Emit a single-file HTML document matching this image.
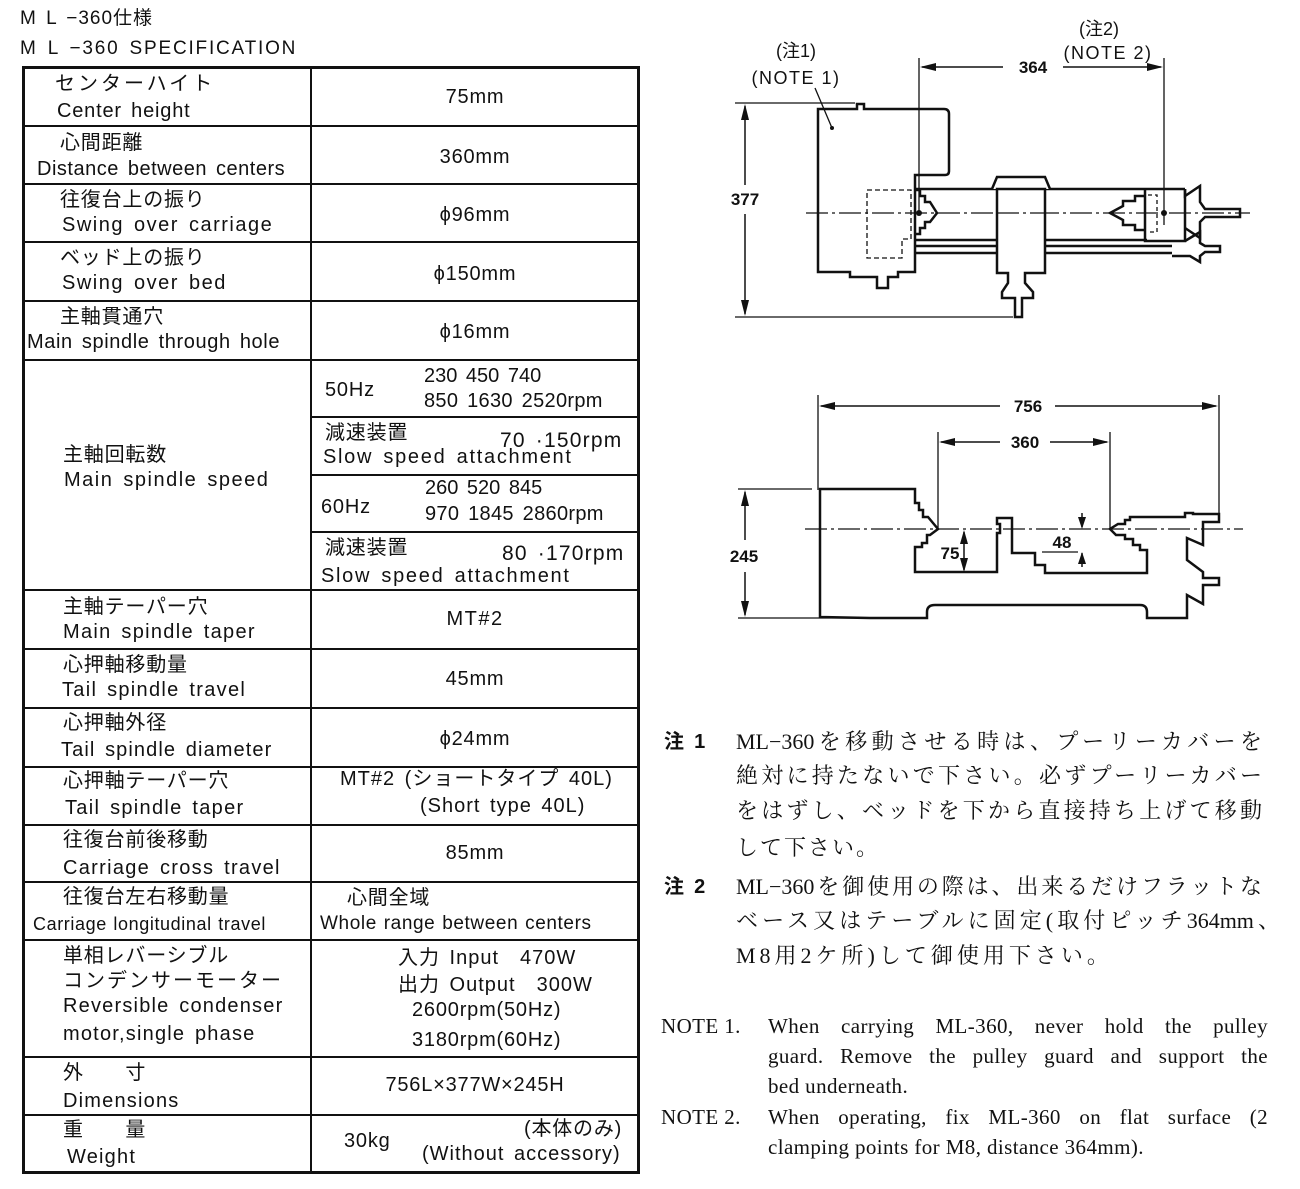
<!DOCTYPE html>
<html><head><meta charset="utf-8">
<style>
*{margin:0;padding:0;box-sizing:border-box}
body{width:1300px;height:1189px;background:#fff;position:relative;overflow:hidden;font-family:"Liberation Sans","Noto Sans CJK JP",sans-serif;color:#111}
.t{position:absolute;white-space:nowrap;font-size:20px;line-height:22px;letter-spacing:0.8px;word-spacing:3px}
.c{text-align:center}
.jp{position:absolute;white-space:nowrap;font-family:"Liberation Serif","Noto Serif CJK SC",serif;font-size:22px;line-height:26px}
.j{text-align:justify;text-align-last:justify;white-space:normal;overflow:hidden;height:28px}
.en{position:absolute;white-space:nowrap;font-family:"Liberation Serif",serif;font-size:21px;line-height:24px;letter-spacing:0.4px}
.hl{position:absolute;background:#111;height:2px}
.vl{position:absolute;background:#111;width:2px}
</style></head><body>

<div class="t" style="left:20px;top:8px;font-size:19px;letter-spacing:1px">M L −360仕様</div>
<div class="t" style="left:20px;top:38px;font-size:19px;letter-spacing:1.8px">M L −360 SPECIFICATION</div>

<div style="position:absolute;left:22px;top:66px;width:618px;height:1108px;border:3px solid #111"></div>
<div class="vl" style="left:310px;top:66px;height:1108px"></div>
<div class="hl" style="left:22px;width:618px;top:125px"></div>
<div class="hl" style="left:22px;width:618px;top:183px"></div>
<div class="hl" style="left:22px;width:618px;top:241px"></div>
<div class="hl" style="left:22px;width:618px;top:300px"></div>
<div class="hl" style="left:22px;width:618px;top:359px"></div>
<div class="hl" style="left:310px;width:330px;top:416px"></div>
<div class="hl" style="left:310px;width:330px;top:474px"></div>
<div class="hl" style="left:310px;width:330px;top:531px"></div>
<div class="hl" style="left:22px;width:618px;top:589px"></div>
<div class="hl" style="left:22px;width:618px;top:648px"></div>
<div class="hl" style="left:22px;width:618px;top:707px"></div>
<div class="hl" style="left:22px;width:618px;top:766px"></div>
<div class="hl" style="left:22px;width:618px;top:824px"></div>
<div class="hl" style="left:22px;width:618px;top:881px"></div>
<div class="hl" style="left:22px;width:618px;top:939px"></div>
<div class="hl" style="left:22px;width:618px;top:1056px"></div>
<div class="hl" style="left:22px;width:618px;top:1114px"></div>

<div class="t" style="left:55px;top:73px;letter-spacing:3px">センターハイト</div>
<div class="t" style="left:57px;top:100px">Center height</div>
<div class="t" style="left:60px;top:132px">心間距離</div>
<div class="t" style="left:37px;top:158px;letter-spacing:0.5px">Distance between centers</div>
<div class="t" style="left:60px;top:189px">往復台上の振り</div>
<div class="t" style="left:62px;top:214px;letter-spacing:1.5px">Swing over carriage</div>
<div class="t" style="left:60px;top:247px">ベッド上の振り</div>
<div class="t" style="left:62px;top:272px;letter-spacing:1.5px">Swing over bed</div>
<div class="t" style="left:60px;top:306px">主軸貫通穴</div>
<div class="t" style="left:27px;top:331px;letter-spacing:0.6px">Main spindle through hole</div>
<div class="t" style="left:63px;top:444px">主軸回転数</div>
<div class="t" style="left:64px;top:469px;letter-spacing:1.5px">Main spindle speed</div>
<div class="t" style="left:63px;top:596px">主軸テーパー穴</div>
<div class="t" style="left:63px;top:621px;letter-spacing:1.3px">Main spindle taper</div>
<div class="t" style="left:63px;top:654px">心押軸移動量</div>
<div class="t" style="left:62px;top:679px;letter-spacing:1.3px">Tail spindle travel</div>
<div class="t" style="left:63px;top:712px">心押軸外径</div>
<div class="t" style="left:61px;top:739px;letter-spacing:1.1px">Tail spindle diameter</div>
<div class="t" style="left:63px;top:770px">心押軸テーパー穴</div>
<div class="t" style="left:65px;top:797px;letter-spacing:1.3px">Tail spindle taper</div>
<div class="t" style="left:63px;top:829px">往復台前後移動</div>
<div class="t" style="left:63px;top:857px;letter-spacing:1.3px">Carriage cross travel</div>
<div class="t" style="left:63px;top:886px">往復台左右移動量</div>
<div class="t" style="left:33px;top:913px;font-size:18px;letter-spacing:0.6px;word-spacing:1px">Carriage longitudinal travel</div>
<div class="t" style="left:63px;top:945px">単相レバーシブル</div>
<div class="t" style="left:63px;top:970px;letter-spacing:2px">コンデンサーモーター</div>
<div class="t" style="left:63px;top:995px;letter-spacing:1.2px">Reversible condenser</div>
<div class="t" style="left:63px;top:1023px;letter-spacing:1.2px">motor,single phase</div>
<div class="t" style="left:63px;top:1062px">外　　寸</div>
<div class="t" style="left:63px;top:1090px;letter-spacing:1.2px">Dimensions</div>
<div class="t" style="left:63px;top:1119px">重　　量</div>
<div class="t" style="left:67px;top:1146px;letter-spacing:1.2px">Weight</div>

<div class="t c" style="left:310px;width:330px;top:86px">75mm</div>
<div class="t c" style="left:310px;width:330px;top:146px">360mm</div>
<div class="t c" style="left:310px;width:330px;top:204px">ϕ96mm</div>
<div class="t c" style="left:310px;width:330px;top:263px">ϕ150mm</div>
<div class="t c" style="left:310px;width:330px;top:321px">ϕ16mm</div>
<div class="t" style="left:325px;top:379px">50Hz</div>
<div class="t" style="left:424px;top:365px;letter-spacing:0">230 450 740</div>
<div class="t" style="left:424px;top:390px;letter-spacing:0.3px">850 1630 2520rpm</div>
<div class="t" style="left:325px;top:422px">減速装置</div>
<div class="t" style="left:500px;top:430px;font-size:21px;letter-spacing:1.2px">70 ·150rpm</div>
<div class="t" style="left:323px;top:446px;letter-spacing:1.7px">Slow speed attachment</div>
<div class="t" style="left:321px;top:496px">60Hz</div>
<div class="t" style="left:425px;top:477px;letter-spacing:0">260 520 845</div>
<div class="t" style="left:425px;top:503px;letter-spacing:0.3px">970 1845 2860rpm</div>
<div class="t" style="left:325px;top:537px">減速装置</div>
<div class="t" style="left:502px;top:543px;font-size:21px;letter-spacing:1.2px">80 ·170rpm</div>
<div class="t" style="left:321px;top:565px;letter-spacing:1.7px">Slow speed attachment</div>
<div class="t c" style="left:310px;width:330px;top:608px;letter-spacing:1.5px">MT#2</div>
<div class="t c" style="left:310px;width:330px;top:668px">45mm</div>
<div class="t c" style="left:310px;width:330px;top:728px">ϕ24mm</div>
<div class="t" style="left:340px;top:768px;letter-spacing:1px">MT#2 (ショートタイプ 40L)</div>
<div class="t" style="left:420px;top:795px;letter-spacing:1px">(Short type 40L)</div>
<div class="t c" style="left:310px;width:330px;top:842px">85mm</div>
<div class="t" style="left:347px;top:887px">心間全域</div>
<div class="t" style="left:320px;top:913px;font-size:19px;letter-spacing:0.6px;word-spacing:1px">Whole range between centers</div>
<div class="t" style="left:398px;top:947px;letter-spacing:1px">入力 Input　470W</div>
<div class="t" style="left:398px;top:974px;letter-spacing:1px">出力 Output　300W</div>
<div class="t" style="left:412px;top:999px">2600rpm(50Hz)</div>
<div class="t" style="left:412px;top:1029px">3180rpm(60Hz)</div>
<div class="t c" style="left:310px;width:330px;top:1074px">756L×377W×245H</div>
<div class="t" style="left:344px;top:1130px">30kg</div>
<div class="t" style="left:524px;top:1118px">(本体のみ)</div>
<div class="t" style="left:422px;top:1143px;letter-spacing:1px">(Without accessory)</div>

<svg width="1300" height="1189" style="position:absolute;left:0;top:0" xmlns="http://www.w3.org/2000/svg">
<g fill="none" stroke="#111" stroke-width="2.5">
<line x1="735" y1="103" x2="855" y2="103" stroke-width="1.3"/>
<line x1="735" y1="317" x2="1013" y2="317" stroke-width="1.3"/>
<line x1="745" y1="106" x2="745" y2="185" stroke-width="1.5"/>
<line x1="745" y1="214" x2="745" y2="314" stroke-width="1.5"/>
<line x1="919" y1="58" x2="919" y2="215" stroke-width="1.3"/>
<line x1="1164" y1="58" x2="1164" y2="225" stroke-width="1.3"/>
<line x1="922" y1="67" x2="1003" y2="67" stroke-width="1.5"/>
<line x1="1063" y1="67" x2="1161" y2="67" stroke-width="1.5"/>
<line x1="815" y1="88" x2="832" y2="128" stroke-width="1.3"/>
<line x1="806" y1="213" x2="1250" y2="213" stroke-width="1.3" stroke-dasharray="22,4,3,4"/>
<path d="M818,109 L857,109 L857,104 L864,104 L864,109 L944,109 Q949,109 949,114 L949,171 Q949,175 945,175 L915,175 L915,272 L898,272 L898,277 L888,277 L888,288 L877,288 L877,277 L850,277 L850,272 L818,272 Z"/>
<path d="M915,190 L920,190 L920,196 L925,196 L925,202 L930,202 L937,213 L930,222 L925,222 L925,228 L920,228 L920,234 L915,234"/>
<path d="M867,190 L911,190 L911,239 L902,239 L902,258 L867,258 Z" stroke-width="1.3" stroke-dasharray="5,3"/>
<line x1="915" y1="189" x2="1185" y2="189"/>
<line x1="915" y1="240" x2="1147" y2="240"/>
<line x1="915" y1="246" x2="1172" y2="246"/>
<line x1="915" y1="253" x2="1172" y2="253"/>
<path d="M992,189 L997,177 L1045,177 L1050,189" fill="#fff"/>
<path d="M997,189 L997,273 L1008,273 L1008,283 L1002,292 L1002,298 L1015,298 L1015,317 L1022,317 L1022,298 L1033,298 L1033,292 L1025,283 L1025,273 L1045,273 L1045,189 Z" fill="#fff"/>
<line x1="997" y1="213" x2="1045" y2="213" stroke-width="1.3" stroke-dasharray="22,4,3,4"/>
<path d="M1145,189 L1145,241 L1185,241 L1185,189"/>
<path d="M1145,196 L1135,196 L1135,201 L1123,201 L1123,206 L1110,213 L1123,220 L1123,225 L1135,225 L1135,230 L1145,230"/>
<path d="M1148,195 L1157,195 L1157,232 L1148,232" stroke-width="1.3" stroke-dasharray="4,3"/>
<path d="M1185,189 L1185,196 L1200,186 L1200,202 L1205,209 L1240,209 L1240,217 L1205,217 L1200,222 L1200,238 L1185,228"/>
<path d="M1185,241 L1200,232 L1200,243 L1205,246 L1220,246 L1220,252 L1205,252 L1200,256 L1200,262 L1190,256 L1172,256"/>
<line x1="818" y1="395" x2="818" y2="490" stroke-width="1.3"/>
<line x1="1219" y1="395" x2="1219" y2="515" stroke-width="1.3"/>
<line x1="938" y1="432" x2="938" y2="529" stroke-width="1.3"/>
<line x1="1110" y1="432" x2="1110" y2="529" stroke-width="1.3"/>
<line x1="821" y1="406" x2="1000" y2="406" stroke-width="1.5"/>
<line x1="1055" y1="406" x2="1216" y2="406" stroke-width="1.5"/>
<line x1="941" y1="442" x2="1000" y2="442" stroke-width="1.5"/>
<line x1="1050" y1="442" x2="1107" y2="442" stroke-width="1.5"/>
<line x1="738" y1="489" x2="812" y2="489" stroke-width="1.3"/>
<line x1="738" y1="618" x2="870" y2="618" stroke-width="1.3"/>
<line x1="745" y1="492" x2="745" y2="540" stroke-width="1.5"/>
<line x1="745" y1="572" x2="745" y2="615" stroke-width="1.5"/>
<line x1="805" y1="529" x2="1243" y2="529" stroke-width="1.3" stroke-dasharray="22,4,3,4"/>
<path d="M820,489 L915,489 L915,503 L919,503 L919,510 L923,510 L923,517 L928,517 L938,529 L930,535 L927,535 L927,543 L922,543 L922,547 L915,547 L915,572 L997,572 L997,533 L1000,533 L1000,524 L997,524 L997,518 L1012,518 L1012,553 L1035,553 L1035,565 L1045,565 L1045,573 L1147,573 L1147,550 L1140,550 L1140,545 L1133,545 L1133,539 L1125,539 L1125,535 L1116,535 L1110,529 L1118,524 L1125,524 L1125,520 L1130,520 L1130,517 L1185,517 L1185,513 L1193,513 L1193,514 L1219,514 L1219,522 L1203,522 L1203,545 L1187,538 L1187,560 L1203,572 L1203,578 L1219,578 L1219,585 L1203,585 L1203,604 L1187,595 L1187,618 L1147,618 L1147,612 Q1147,605 1140,605 L935,605 Q927,605 927,612 L927,618 L870,618 L820,617 Z"/>
<line x1="964" y1="532" x2="964" y2="570" stroke-width="1.5"/>
<line x1="1082" y1="513" x2="1082" y2="527" stroke-width="1.5"/>
<line x1="1082" y1="553" x2="1082" y2="567" stroke-width="1.5"/>
<line x1="1042" y1="552" x2="1078" y2="552" stroke-width="1.3"/>
</g>
<g fill="#111">
<polygon points="745,104 741,120 749,120"/>
<polygon points="745,316 741,300 749,300"/>
<polygon points="920,67 936,63 936,71"/>
<polygon points="1163,67 1147,63 1147,71"/>
<circle cx="919" cy="213" r="3"/><circle cx="1164" cy="213" r="3"/><circle cx="832" cy="128" r="2"/>
<polygon points="819,406 835,402 835,410"/>
<polygon points="1218,406 1202,402 1202,410"/>
<polygon points="939,442 955,438 955,446"/>
<polygon points="1109,442 1093,438 1093,446"/>
<polygon points="745,490 741,506 749,506"/>
<polygon points="745,617 741,601 749,601"/>
<polygon points="964,530 960,544 968,544"/>
<polygon points="964,572 960,558 968,558"/>
<polygon points="1082,529 1078,517 1086,517"/>
<polygon points="1082,552 1078,564 1086,564"/>
</g>
<g font-family="Liberation Sans, sans-serif" font-weight="bold" font-size="17" fill="#111" text-anchor="middle">
<text x="745" y="205">377</text>
<text x="1033" y="73">364</text>
<text x="1028" y="412">756</text>
<text x="1025" y="448">360</text>
<text x="744" y="562">245</text>
<text x="950" y="559">75</text>
<text x="1062" y="548">48</text>
</g>
<g font-family="Liberation Sans, Noto Sans CJK JP, sans-serif" font-size="18" fill="#111" text-anchor="middle">
<text x="796" y="57">(注1)</text>
<text x="796" y="84" letter-spacing="1.5">(NOTE 1)</text>
<text x="1099" y="35">(注2)</text>
<text x="1108" y="59" letter-spacing="1.5">(NOTE 2)</text>
</g>
</svg>

<div class="t" style="left:664px;top:731px;font-weight:bold;font-size:20px">注 1</div>
<div class="jp j" style="left:736px;top:729px;width:526px">ML−360を移動させる時は、プーリーカバーを</div>
<div class="jp j" style="left:736px;top:763px;width:526px">絶対に持たないで下さい。必ずプーリーカバー</div>
<div class="jp j" style="left:736px;top:798px;width:526px">をはずし、ベッドを下から直接持ち上げて移動</div>
<div class="jp" style="left:736px;top:835px;letter-spacing:2px">して下さい。</div>
<div class="t" style="left:664px;top:876px;font-weight:bold;font-size:20px">注 2</div>
<div class="jp j" style="left:736px;top:874px;width:526px">ML−360を御使用の際は、出来るだけフラットな</div>
<div class="jp j" style="left:736px;top:908px;width:544px">ベース又はテーブルに固定(取付ピッチ364mm、</div>
<div class="jp" style="left:736px;top:943px;letter-spacing:4px">M8用2ケ所)して御使用下さい。</div>

<div class="en" style="left:661px;top:1014px">NOTE 1.</div>
<div class="en j" style="left:768px;top:1014px;width:500px">When carrying ML-360, never hold the pulley</div>
<div class="en j" style="left:768px;top:1044px;width:500px">guard. Remove the pulley guard and support the</div>
<div class="en" style="left:768px;top:1074px">bed underneath.</div>
<div class="en" style="left:661px;top:1105px">NOTE 2.</div>
<div class="en j" style="left:768px;top:1105px;width:500px">When operating, fix ML-360 on flat surface (2</div>
<div class="en" style="left:768px;top:1135px">clamping points for M8, distance 364mm).</div>
</body></html>
